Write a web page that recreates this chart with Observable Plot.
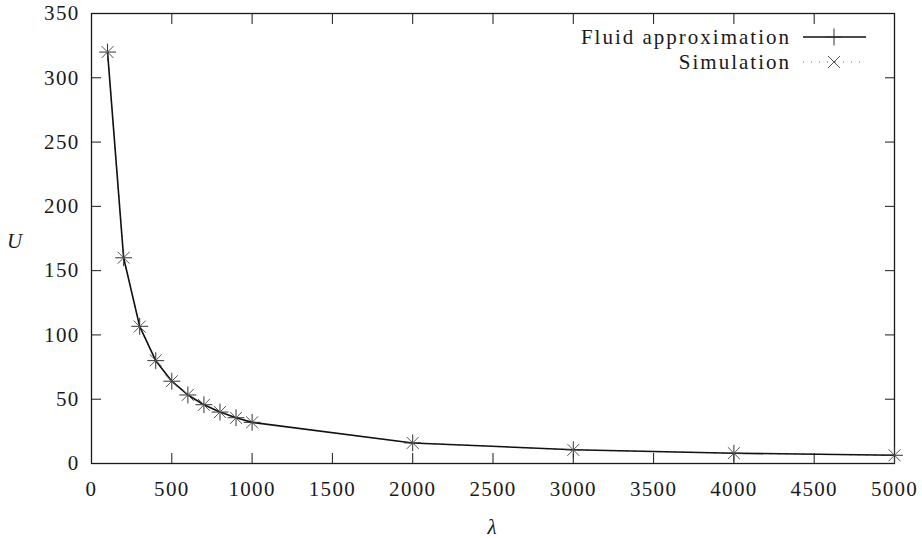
<!DOCTYPE html>
<html>
<head>
<meta charset="utf-8">
<script src="https://cdn.jsdelivr.net/npm/d3@7"></script>
<script src="https://cdn.jsdelivr.net/npm/@observablehq/plot@0.6"></script>
<style>
  html, body { margin: 0; padding: 0; background: #fff; }
  #wrap { position: relative; width: 922px; height: 538px; }
  #wrap svg { display: block; }
</style>
</head>
<body>
<div id="wrap"></div>
<script>
// ---- data ----
const lambdas = [100, 200, 300, 400, 500, 600, 700, 800, 900, 1000, 2000, 3000, 4000, 5000];
const fluidU = [320, 160, 106.7, 80, 64, 53.3, 45.7, 40, 35.6, 32, 16, 10.7, 8, 6.4];
const simU   = [320, 160, 106.5, 80.2, 64, 53.4, 45.6, 40, 35.5, 32, 16, 10.6, 8, 6.4];
const xTicks = [0, 500, 1000, 1500, 2000, 2500, 3000, 3500, 4000, 4500, 5000];
const yTicks = [0, 50, 100, 150, 200, 250, 300, 350];
const seriesNames = ["Fluid approximation", "Simulation"];
const axisTitles = {x: "λ", y: "U"};

const fluid = lambdas.map((l, i) => ({x: l, y: fluidU[i]}));
const sim = lambdas.map((l, i) => ({x: l, y: simU[i]}));

const W = 922, H = 538;
const ink = "#1a1a1a";
const FONT = "Liberation Serif";

const plot = Plot.plot({
  width: W,
  height: H,
  marginLeft: 91,
  marginRight: 28,
  marginTop: 13,
  marginBottom: 75,
  style: {fontFamily: FONT, fontSize: "21px", color: ink, background: "#fff"},
  x: {domain: [0, 5000]},
  y: {domain: [0, 350]},
  marks: [
    // inward ticks on all four sides
    Plot.axisX(xTicks, {anchor: "bottom", tickSize: -10, tickFormat: () => "", label: null, stroke: ink}),
    Plot.axisX(xTicks, {anchor: "top", tickSize: -10, tickFormat: () => "", label: null, stroke: ink}),
    Plot.axisY(yTicks, {anchor: "left", tickSize: -10, tickFormat: () => "", label: null, stroke: ink}),
    Plot.axisY(yTicks, {anchor: "right", tickSize: -10, tickFormat: () => "", label: null, stroke: ink}),
    // tick labels
    Plot.axisX(xTicks, {anchor: "bottom", tickSize: 0, tickPadding: 18, tickFormat: "d", label: null, fill: ink, fontSize: 21}),
    Plot.axisY(yTicks, {anchor: "left", tickSize: 0, tickPadding: 12, tickFormat: "d", label: null, fill: ink, fontSize: 21}),
    Plot.frame({stroke: ink, strokeWidth: 1.3}),
    // series
    Plot.line(sim, {x: "x", y: "y", stroke: "#666", strokeWidth: 1, strokeDasharray: "1,7"}),
    Plot.line(fluid, {x: "x", y: "y", stroke: "#111", strokeWidth: 1.6}),
    Plot.dot(fluid, {x: "x", y: "y", symbol: "plus", r: 5.5, stroke: "#333", strokeWidth: 1}),
    Plot.dot(sim, {x: "x", y: "y", symbol: "times", r: 5.5, stroke: "#555", strokeWidth: 1})
  ]
});

const wrap = document.getElementById("wrap");
wrap.appendChild(plot);

const svg = d3.select(plot);
svg.attr("font-family", FONT);
svg.selectAll("text").attr("font-family", FONT).attr("letter-spacing", "1.3");

// axis titles
svg.append("text")
  .attr("x", 14.5).attr("y", 241).attr("dy", "0.35em")
  .attr("text-anchor", "middle")
  .attr("font-family", FONT).attr("font-style", "italic").attr("font-size", 21)
  .attr("fill", ink)
  .text(axisTitles.y);
svg.append("text")
  .attr("x", 492).attr("y", 527).attr("dy", "0.35em")
  .attr("text-anchor", "middle")
  .attr("font-family", FONT).attr("font-style", "italic").attr("font-size", 21)
  .attr("fill", ink)
  .text(axisTitles.x);

// legend
const leg = svg.append("g").attr("font-family", FONT).attr("font-size", 21).attr("fill", ink);
const rows = [
  {name: seriesNames[0], y: 37, dash: null, stroke: "#111", sym: d3.symbolPlus, symStroke: "#333"},
  {name: seriesNames[1], y: 62, dash: "1,7", stroke: "#666", sym: d3.symbolTimes, symStroke: "#555"}
];
rows.forEach(r => {
  leg.append("text").attr("x", 791).attr("y", r.y).attr("dy", "0.32em")
    .attr("font-family", FONT).attr("letter-spacing", "2")
    .attr("text-anchor", "end").text(r.name);
  leg.append("line").attr("x1", 803).attr("x2", 866).attr("y1", r.y).attr("y2", r.y)
    .attr("stroke", r.stroke).attr("stroke-width", r.dash ? 1.2 : 1.3)
    .attr("stroke-dasharray", r.dash);
  leg.append("path").attr("d", d3.symbol(r.sym, 5.5 * 5.5 * Math.PI)())
    .attr("transform", `translate(834,${r.y})`)
    .attr("fill", "none").attr("stroke", r.symStroke).attr("stroke-width", 1);
});
</script>
</body>
</html>
